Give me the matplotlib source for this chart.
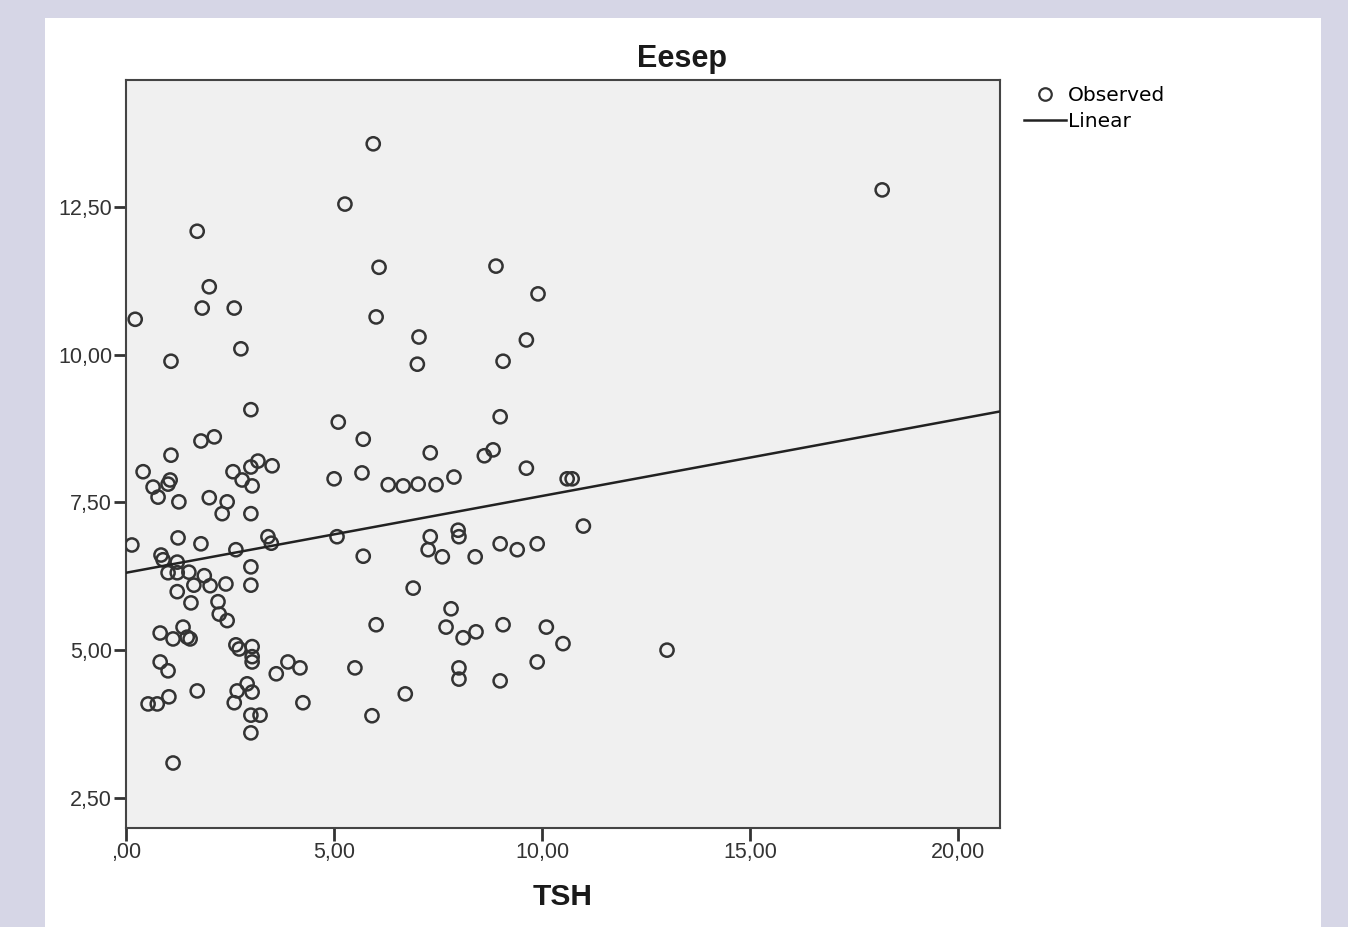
import matplotlib
matplotlib.use("Agg")
import matplotlib.pyplot as plt
from matplotlib.patches import Rectangle
from matplotlib.lines import Line2D
from matplotlib.ticker import FuncFormatter

# Données
tsh = [5.94, 5.26, 18.17, 1.71, 6.08, 8.89, 2.00, 9.90, 1.83, 2.60,
       0.22, 6.01, 7.04, 9.62, 2.76, 1.08, 7.00, 9.06, 3.00, 8.99,
       5.10, 2.12, 1.80, 5.70, 1.08, 7.31, 8.61, 8.82, 9.62, 0.41,
       3.17, 3.51, 2.57, 3.00, 5.67, 5.00, 2.79, 0.65, 1.06, 1.01,
       0.77, 3.03, 6.30, 6.66, 7.02, 7.45, 7.88, 10.60, 10.72, 2.00,
       2.43, 1.27, 2.31, 3.00, 10.99, 0.14, 1.25, 1.80, 2.64, 3.41,
       3.49, 5.07, 7.31, 7.98, 8.00, 7.26, 8.99, 9.40, 9.88, 5.70,
       7.60, 8.39, 0.84, 0.89, 1.23, 1.01, 1.23, 1.51, 1.88, 3.00,
       1.63, 2.02, 2.40, 3.00, 1.23, 1.56, 2.21, 6.90, 2.24, 7.81,
       2.43, 7.69, 6.01, 9.06, 10.10, 0.82, 1.37, 1.13, 1.47, 1.54,
       8.10, 8.41, 2.64, 2.72, 3.03, 3.03, 3.03, 10.50, 13.00, 0.82,
       1.01, 3.89, 4.18, 3.61, 5.50, 8.00, 8.00, 8.99, 9.88, 6.71,
       1.71, 2.67, 2.91, 3.03, 1.03, 0.53, 0.75, 2.60, 4.25, 3.00,
       3.22, 5.91, 3.00, 1.13]

eesep = [13.57, 12.55, 12.79, 12.09, 11.48, 11.50, 11.15, 11.03, 10.79, 10.79,
         10.60, 10.64, 10.30, 10.25, 10.10, 9.89, 9.84, 9.89, 9.07, 8.95,
         8.86, 8.61, 8.54, 8.57, 8.30, 8.34, 8.29, 8.39, 8.08, 8.02,
         8.20, 8.12, 8.02, 8.10, 8.00, 7.90, 7.88, 7.76, 7.88, 7.81,
         7.59, 7.78, 7.80, 7.78, 7.81, 7.80, 7.93, 7.90, 7.90, 7.58,
         7.51, 7.51, 7.31, 7.31, 7.10, 6.78, 6.90, 6.80, 6.70, 6.92,
         6.81, 6.92, 6.92, 7.03, 6.92, 6.70, 6.80, 6.70, 6.80, 6.59,
         6.58, 6.58, 6.61, 6.53, 6.49, 6.31, 6.31, 6.32, 6.26, 6.41,
         6.10, 6.09, 6.12, 6.10, 5.99, 5.80, 5.82, 6.05, 5.61, 5.70,
         5.50, 5.39, 5.43, 5.43, 5.39, 5.29, 5.39, 5.19, 5.22, 5.19,
         5.21, 5.31, 5.09, 5.02, 5.06, 4.89, 4.80, 5.11, 5.00, 4.80,
         4.65, 4.80, 4.70, 4.60, 4.70, 4.70, 4.51, 4.48, 4.80, 4.26,
         4.31, 4.31, 4.43, 4.29, 4.21, 4.09, 4.09, 4.11, 4.11, 3.90,
         3.90, 3.89, 3.60, 3.09]

# droite de régression (Linear)
fit_intercept = 6.31
fit_slope = 0.130
fit_x = [0.0, 21.0]

x_ticks = [0, 5, 10, 15, 20]
y_ticks = [2.5, 5.0, 7.5, 10.0, 12.5]

plt.rcParams['font.family'] = ['Liberation Sans', 'DejaVu Sans']

fig = plt.figure(figsize=(13.48, 9.27), dpi=100)
fig.patch.set_facecolor('#d6d6e6')
fig.patches.append(Rectangle((45 / 1348, 0), 1276 / 1348, 909 / 927,
                             transform=fig.transFigure, facecolor='white',
                             edgecolor='none', zorder=-10))

ax = fig.add_axes([0.0935, 0.1068, 0.6483, 0.8069])
ax.set_zorder(5)
ax.set_facecolor('#f0f0f0')

ax.scatter(tsh, eesep, s=90, facecolors='none', edgecolors='#333333',
           linewidths=1.8, zorder=3)
fit_y = [fit_intercept + fit_slope * v for v in fit_x]
ax.plot(fit_x, fit_y, color='#222222', lw=1.8, zorder=4)

ax.set_xlim(0, 21)
ax.set_ylim(1.99, 14.65)
ax.set_xticks(x_ticks)
ax.set_yticks(y_ticks)


def virgule(v, pos):
    s = ('%.2f' % v).replace('.', ',')
    return s[1:] if s.startswith('0') else s


fmt = FuncFormatter(virgule)
ax.xaxis.set_major_formatter(fmt)
ax.yaxis.set_major_formatter(fmt)
ax.tick_params(direction='out', length=9, width=2, color='#333333',
               labelsize=15.5, labelcolor='#333333', pad=1)
for sp in ax.spines.values():
    sp.set_color('#444444')
    sp.set_linewidth(1.5)

# titre et axe X placés comme dans SPSS
fig.text(682 / 1348, 1 - 67 / 927, 'Eesep', fontsize=22, fontweight='bold',
         color='#1a1a1a', ha='center', va='baseline')
fig.text(563 / 1348, 1 - 905 / 927, 'TSH', fontsize=21.5, fontweight='bold',
         color='#1a1a1a', ha='center', va='baseline')

handles = [Line2D([], [], marker='o', ls='none', markerfacecolor='none',
                  markeredgecolor='#333333', markersize=9, markeredgewidth=1.6),
           Line2D([], [], color='#222222', lw=1.8)]
leg = fig.legend(handles, ['Observed', 'Linear'], loc='upper left',
                 bbox_to_anchor=(1024 / 1348, 1 - 86 / 927), frameon=False,
                 prop={'family': 'DejaVu Sans', 'size': 14.5},
                 handlelength=2.1, handletextpad=0.1,
                 labelspacing=0.35, borderaxespad=0, borderpad=0)
leg.set_zorder(6)

plt.savefig("out.png", dpi=100)
